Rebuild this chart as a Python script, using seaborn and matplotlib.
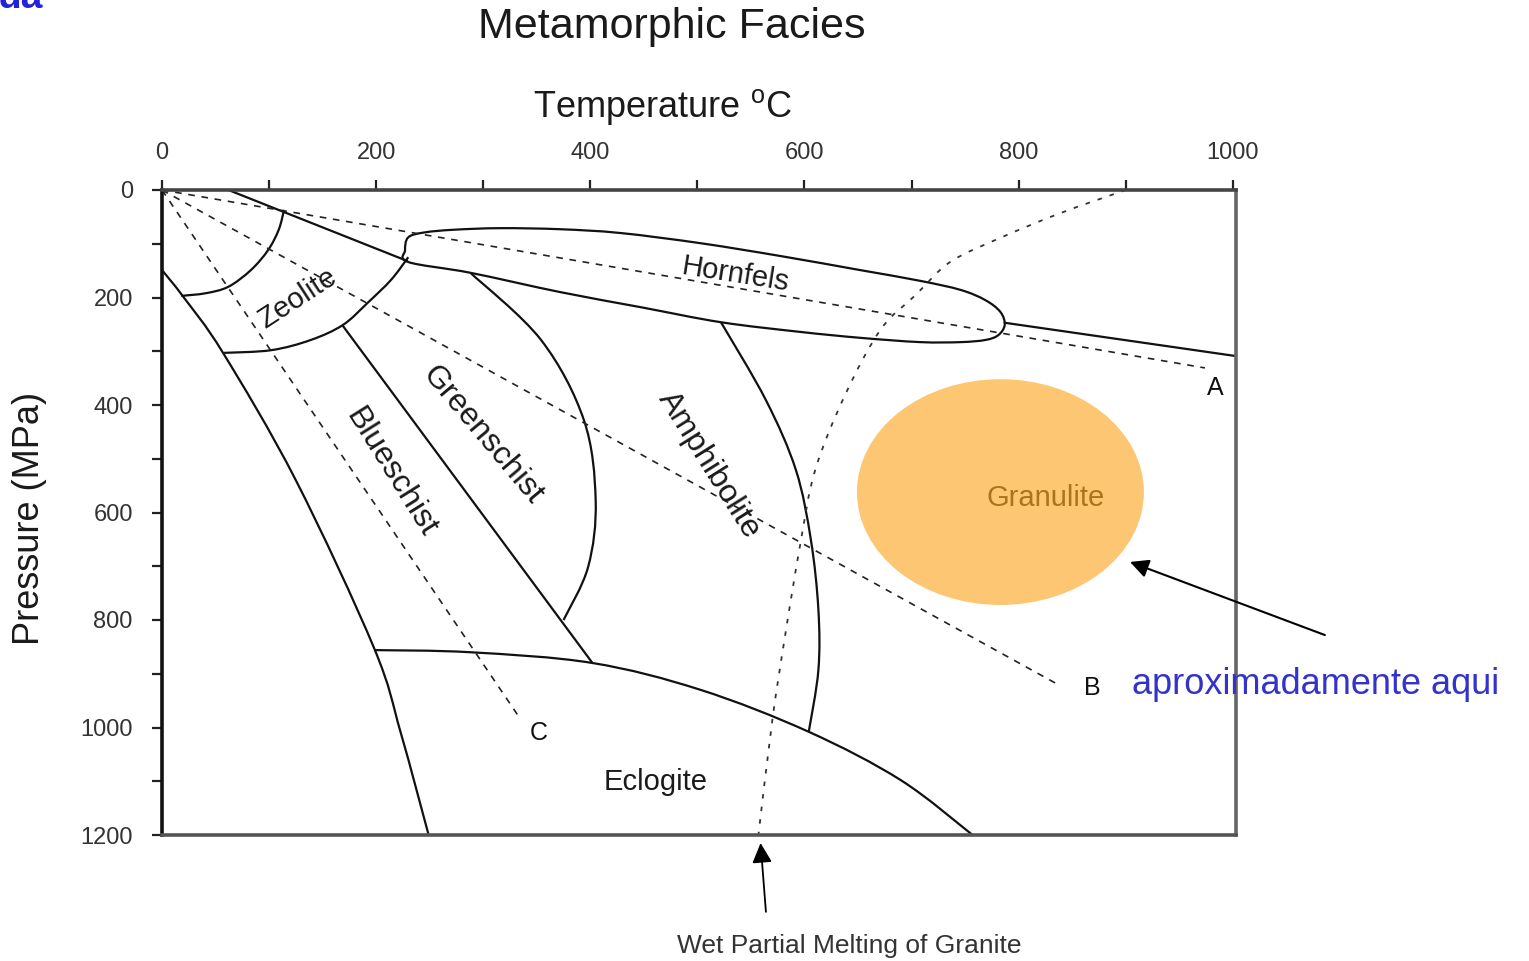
import matplotlib
matplotlib.use("Agg")
import matplotlib.pyplot as plt
from matplotlib.patches import Ellipse, PathPatch
from matplotlib.path import Path
import numpy as np
import pandas as pd
import seaborn as sns

# ---- facies boundaries (temperature in degC, pressure in MPa) ----
upper_left_T = [62, 229]
upper_left_P = [0, 132]
upper_right_T = [787, 1003]
upper_right_P = [247, 309]

zeolite_inner_T = [114, 109, 99, 83, 62, 41, 18]
zeolite_inner_P = [37, 74, 112, 149, 180, 192, 197]

zeolite_outer_T = [230, 214, 192, 169, 139, 102, 58]
zeolite_outer_P = [125, 167, 210, 251, 279, 298, 303]

left_bound_T = [0, 20, 57, 125, 198, 223, 249]
left_bound_P = [149, 199, 303, 540, 852, 1010, 1200]

blue_green_T = [169, 402]
blue_green_P = [253, 880]

green_amph_T = [288, 354, 394, 405, 398, 375]
green_amph_P = [154, 279, 428, 577, 701, 800]

amph_gran_T = [522, 564, 592, 606, 613, 613, 604]
amph_gran_P = [246, 391, 521, 651, 781, 893, 1008]

eclogite_T = [198, 288, 402, 503, 604, 690, 757]
eclogite_P = [856, 860, 880, 930, 1008, 1098, 1200]

hornfels_T = [230, 245, 272, 316, 372, 428, 503, 578, 652, 708, 746, 769, 783,
              787, 781, 769, 746, 708, 652, 596, 522, 447, 372, 288, 230, 227]
hornfels_P = [88, 79, 74, 71, 73, 80, 99, 123, 149, 169, 186, 205, 227,
              251, 270, 279, 283, 283, 275, 264, 246, 218, 190, 154, 134, 112]

# ---- geotherms A, B, C from the origin ----
geotherm_names = ["A", "B", "C"]
geotherm_end_T = [974, 834, 334]
geotherm_end_P = [331, 917, 982]
geotherm_label_T = [984, 869, 352]
geotherm_label_P = [368, 927, 1010]

# ---- wet partial melting of granite ----
melt_T = [900, 839, 783, 736, 704, 671, 638, 610, 596, 582, 570, 557]
melt_P = [0, 43, 89, 134, 195, 260, 381, 521, 660, 828, 986, 1200]

# ---- granulite field ----
granulite_center = (783, 562)
granulite_size = (268, 420)

# ---- facies names ----
facies_names = ["Zeolite", "Hornfels", "Greenschist", "Blueschist",
                "Amphibolite", "Eclogite"]
facies_T = [127, 536, 299, 214, 511, 461]
facies_P = [201, 158, 456, 525, 512, 1101]
facies_rot = [33, -9, -50, -58, -58, 0]
facies_size = [21, 21, 23, 23, 23, 21]

x_ticks = [0, 200, 400, 600, 800, 1000]
x_minor = [100, 300, 500, 700, 900]
y_ticks = [0, 200, 400, 600, 800, 1000, 1200]
y_minor = [100, 300, 500, 700, 900, 1100]

sns.set_theme(style="white")
plt.rcParams["font.family"] = ["Liberation Sans", "DejaVu Sans"]
plt.rcParams["mathtext.fontset"] = "custom"
plt.rcParams["mathtext.rm"] = "Liberation Sans"

W, H = 1529, 961
fig = plt.figure(figsize=(W / 100, H / 100), dpi=100)
ax = fig.add_axes([162 / W, 1 - 835 / H, (1236 - 162) / W, (835 - 190) / H])

ink = "#111111"


def straight(T, P, **kw):
    df = pd.DataFrame({"T": T, "P": P})
    sns.lineplot(data=df, x="T", y="P", sort=False, estimator=None, ax=ax, **kw)


def smooth(T, P, closed=False, **kw):
    """Draw a smooth curve through the given points (Catmull-Rom as Bezier)."""
    pts = np.column_stack([T, P]).astype(float)
    n = len(pts)
    if closed:
        pts = np.vstack([pts, pts[:1]])
    m = len(pts)

    def at(i):
        if closed:
            return pts[i % n]
        return pts[min(max(i, 0), m - 1)]

    verts = [pts[0]]
    codes = [Path.MOVETO]
    for i in range(m - 1):
        p0, p1, p2, p3 = at(i - 1), at(i), at(i + 1), at(i + 2)
        verts += [p1 + (p2 - p0) / 6.0, p2 - (p3 - p1) / 6.0, p2]
        codes += [Path.CURVE4] * 3
    ax.add_patch(PathPatch(Path(verts, codes), fill=False, **kw))


# granulite field underneath everything
ax.add_patch(Ellipse(granulite_center, granulite_size[0], granulite_size[1],
                     facecolor="#fdc673", edgecolor="none", zorder=0))

solid = dict(color=ink, lw=1.6)
straight(upper_left_T, upper_left_P, **solid)
straight(upper_right_T, upper_right_P, **solid)
straight(blue_green_T, blue_green_P, **solid)

curved = dict(edgecolor=ink, lw=1.6)
smooth(zeolite_inner_T, zeolite_inner_P, **curved)
smooth(zeolite_outer_T, zeolite_outer_P, **curved)
smooth(left_bound_T, left_bound_P, **curved)
smooth(green_amph_T, green_amph_P, **curved)
smooth(amph_gran_T, amph_gran_P, **curved)
smooth(eclogite_T, eclogite_P, **curved)
smooth(hornfels_T, hornfels_P, closed=True, **curved)

for name, t, p, lt, lp in zip(geotherm_names, geotherm_end_T, geotherm_end_P,
                              geotherm_label_T, geotherm_label_P):
    straight([0, t], [0, p], color="#222222", lw=1.2, linestyle=(0, (4, 4)))
    ax.text(lt, lp, name, fontsize=18, ha="center", va="center", color=ink)

smooth(melt_T, melt_P, edgecolor="#333333", lw=1.3, linestyle=(0, (2.5, 4.5)))

for name, t, p, r, s in zip(facies_names, facies_T, facies_P, facies_rot,
                            facies_size):
    ax.text(t, p, name, fontsize=s, rotation=r, rotation_mode="anchor",
            ha="center", va="center", color="#1a1a1a")

ax.text(825, 573, "Granulite", fontsize=21, ha="center", va="center",
        color="#a8741c")

# axes styling
ax.set_xlim(0, 1003)
ax.set_ylim(1200, 0)
ax.set_xlabel("")
ax.set_ylabel("")
ax.xaxis.tick_top()
ax.set_xticks(x_ticks)
ax.set_xticks(x_minor, minor=True)
ax.set_yticks(y_ticks)
ax.set_yticks(y_minor, minor=True)
ax.set_xticklabels([str(v) for v in x_ticks])
ax.set_yticklabels([str(v) for v in y_ticks])
ax.tick_params(axis="both", which="both", direction="out", length=7,
               width=1.6, color="#222222", labelsize=17, labelcolor="#333333")
ax.tick_params(axis="x", which="both", top=True, bottom=False, pad=12)
ax.tick_params(axis="y", which="both", left=True, right=False, pad=14)
for side, col in [("left", "#111111"), ("top", "#444444"),
                  ("bottom", "#555555"), ("right", "#666666")]:
    ax.spines[side].set_visible(True)
    ax.spines[side].set_color(col)
    ax.spines[side].set_linewidth(2.6)

# pointer to the granulite field
ax.annotate("", xy=(904, 692), xytext=(1086, 828), annotation_clip=False,
            arrowprops=dict(arrowstyle="-|>", lw=1.5, color="black",
                            mutation_scale=28, shrinkA=0, shrinkB=0))
# pointer to the melting curve
ax.annotate("", xy=(559, 1215), xytext=(564, 1343), annotation_clip=False,
            arrowprops=dict(arrowstyle="-|>", lw=1.3, color="black",
                            mutation_scale=30, shrinkA=0, shrinkB=0))

fig.text(672 / W, 1 - 27 / H, "Metamorphic Facies", fontsize=31,
         ha="center", va="center", color="#1a1a1a")
fig.text(662 / W, 1 - 107 / H, r"Temperature $^{\mathrm{o}}$C", fontsize=26,
         ha="center", va="center", color="#1a1a1a")
fig.text(30 / W, 1 - 518 / H, "Pressure (MPa)", fontsize=26, rotation=90,
         ha="center", va="center", color="#1a1a1a")
fig.text(849 / W, 1 - 946 / H, "Wet Partial Melting of Granite", fontsize=19,
         ha="center", va="center", color="#333333")
fig.text(1132 / W, 1 - 685 / H, "aproximadamente aqui", fontsize=26,
         ha="left", va="center", color="#3333cc")
fig.text(-2 / W, 1 - 8 / H, "ua", fontsize=28, fontweight="bold",
         ha="left", va="baseline", color="#2222dd")

fig.savefig("out.png", dpi=100)
